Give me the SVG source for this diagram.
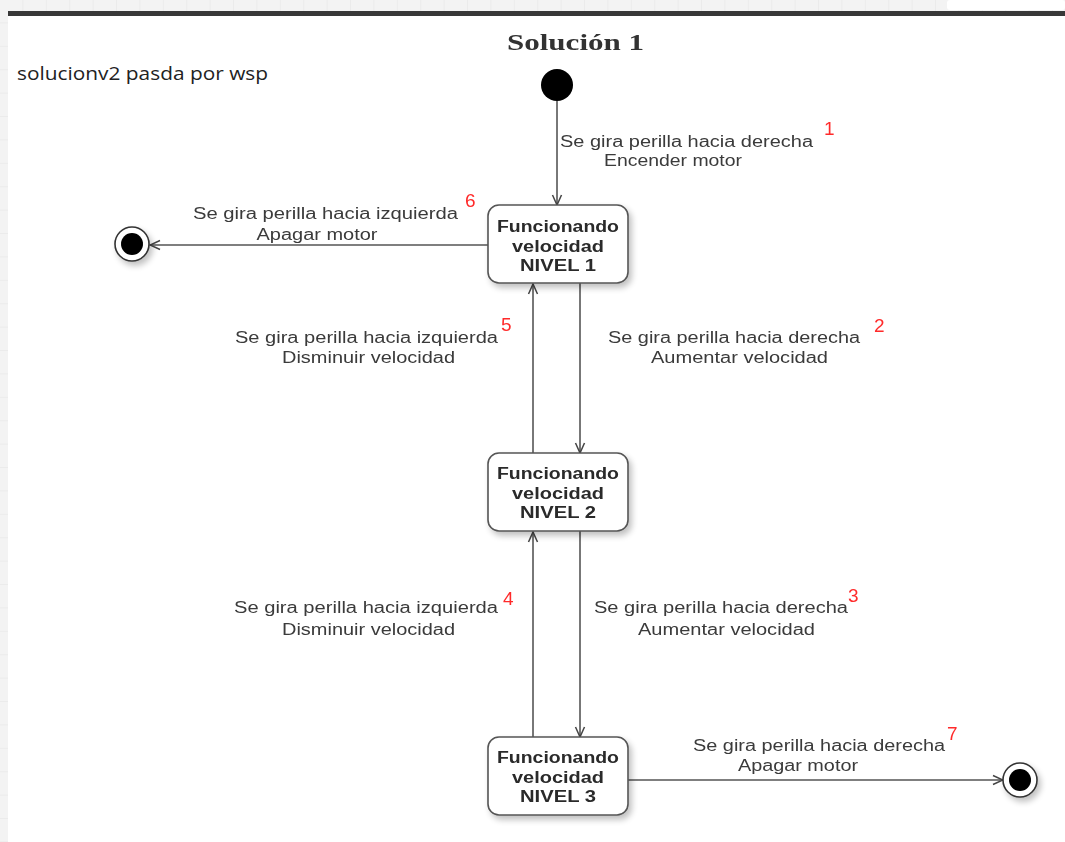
<svg xmlns="http://www.w3.org/2000/svg" width="1065" height="842" viewBox="0 0 1065 842">
  <defs>
    <pattern id="grid" width="23.4" height="23.4" patternUnits="userSpaceOnUse">
      <rect width="23.4" height="23.4" fill="#f3f3f3"/>
      <path d="M23.4 0V23.4M0 23.4H23.4" fill="none" stroke="#e4e4e4" stroke-width="1"/>
    </pattern>
    <filter id="soft" x="-5%" y="-5%" width="110%" height="110%">
      <feGaussianBlur stdDeviation="0.6"/>
    </filter>
    <filter id="shadow" x="-20%" y="-20%" width="150%" height="150%">
      <feGaussianBlur in="SourceAlpha" stdDeviation="3"/>
      <feOffset dx="3" dy="4" result="b"/>
      <feComponentTransfer><feFuncA type="linear" slope="0.25"/></feComponentTransfer>
      <feMerge><feMergeNode/><feMergeNode in="SourceGraphic"/></feMerge>
    </filter>
    <marker id="open" viewBox="0 0 12 12" refX="11" refY="6" markerWidth="12" markerHeight="12" markerUnits="userSpaceOnUse" orient="auto">
      <path d="M1 1.5L11 6L1 10.5" fill="none" stroke="#444" stroke-width="1.5"/>
    </marker>
  </defs>
  <style>
    .lbl { font-family: "Liberation Sans", Arial, sans-serif; font-size: 16px; fill: #3a3a3a; text-anchor: middle; }
    .num { font-family: "Liberation Sans", Arial, sans-serif; font-size: 19px; fill: #ff2a2a; }
    .st { font-family: "Liberation Sans", Arial, sans-serif; font-size: 16px; font-weight: bold; fill: #2a2a2a; text-anchor: middle; }
    .box { fill: #ffffff; stroke: #555; stroke-width: 1.6; }
    .edge { fill: none; stroke: #555; stroke-width: 1.6; marker-end: url(#open); }
  </style>

  <!-- page background -->
  <rect width="1065" height="842" fill="url(#grid)"/>
  <rect x="947" y="0" width="118" height="10" rx="3" fill="#ffffff"/>
  <rect x="8" y="11" width="1057" height="831" fill="#ffffff"/>
  <rect x="8" y="11" width="1057" height="5" fill="#383838"/>

  <text x="17" y="80" font-family="'Open Sans', 'Noto Sans', sans-serif" font-size="18" fill="#222" textLength="251" lengthAdjust="spacingAndGlyphs">solucionv2 pasda por wsp</text>

  <g filter="url(#soft)">
    <text x="575.5" y="50" font-family="'Liberation Serif', 'Times New Roman', serif" font-size="24" font-weight="bold" fill="#333" text-anchor="middle" textLength="137" lengthAdjust="spacingAndGlyphs">Solución 1</text>

    <!-- transitions -->
    <g id="connectors">
      <path class="edge" d="M557 101V205"/>
      <path class="edge" d="M488 245H150"/>
      <path class="edge" d="M580 283V453"/>
      <path class="edge" d="M533 453V284"/>
      <path class="edge" d="M580 531V737"/>
      <path class="edge" d="M533 737V532"/>
      <path class="edge" d="M628 780H1003"/>

      <text class="lbl" x="686.5" y="147" textLength="253" lengthAdjust="spacingAndGlyphs">Se gira perilla hacia derecha</text>
      <text class="lbl" x="673" y="166" textLength="138" lengthAdjust="spacingAndGlyphs">Encender motor</text>
      <text class="num" x="824" y="135">1</text>

      <text class="lbl" x="325.5" y="219" textLength="265" lengthAdjust="spacingAndGlyphs">Se gira perilla hacia izquierda</text>
      <text class="lbl" x="317" y="240" textLength="121" lengthAdjust="spacingAndGlyphs">Apagar motor</text>
      <text class="num" x="465" y="207">6</text>

      <text class="lbl" x="366.5" y="343" textLength="263" lengthAdjust="spacingAndGlyphs">Se gira perilla hacia izquierda</text>
      <text class="lbl" x="368.5" y="363" textLength="173" lengthAdjust="spacingAndGlyphs">Disminuir velocidad</text>
      <text class="num" x="501" y="331">5</text>

      <text class="lbl" x="734" y="343" textLength="252" lengthAdjust="spacingAndGlyphs">Se gira perilla hacia derecha</text>
      <text class="lbl" x="739.5" y="363" textLength="177" lengthAdjust="spacingAndGlyphs">Aumentar velocidad</text>
      <text class="num" x="874" y="332">2</text>

      <text class="lbl" x="366" y="613" textLength="264" lengthAdjust="spacingAndGlyphs">Se gira perilla hacia izquierda</text>
      <text class="lbl" x="368.5" y="635" textLength="173" lengthAdjust="spacingAndGlyphs">Disminuir velocidad</text>
      <text class="num" x="503" y="605">4</text>

      <text class="lbl" x="721" y="613" textLength="254" lengthAdjust="spacingAndGlyphs">Se gira perilla hacia derecha</text>
      <text class="lbl" x="726.5" y="635" textLength="177" lengthAdjust="spacingAndGlyphs">Aumentar velocidad</text>
      <text class="num" x="848" y="602">3</text>

      <text class="lbl" x="819" y="751" textLength="252" lengthAdjust="spacingAndGlyphs">Se gira perilla hacia derecha</text>
      <text class="lbl" x="798" y="771" textLength="120" lengthAdjust="spacingAndGlyphs">Apagar motor</text>
      <text class="num" x="947" y="740">7</text>
    </g>

    <!-- initial state -->
    <g id="initial">
      <circle cx="557" cy="85" r="16" fill="#000"/>
    </g>

    <!-- final states -->
    <g id="final-left" filter="url(#shadow)">
      <circle cx="132" cy="244" r="17" fill="#fff" stroke="#333" stroke-width="1.6"/>
      <circle cx="132" cy="244" r="11" fill="#000"/>
    </g>
    <g id="final-right" filter="url(#shadow)">
      <circle cx="1020" cy="780" r="17" fill="#fff" stroke="#333" stroke-width="1.6"/>
      <circle cx="1020" cy="780" r="11" fill="#000"/>
    </g>

    <!-- speed states -->
    <g id="nivel1" filter="url(#shadow)">
      <rect class="box" x="488" y="205" width="140" height="78" rx="11"/>
      <text class="st" x="558" y="232" textLength="122" lengthAdjust="spacingAndGlyphs">Funcionando</text>
      <text class="st" x="558" y="252" textLength="92" lengthAdjust="spacingAndGlyphs">velocidad</text>
      <text class="st" x="558" y="271" textLength="76" lengthAdjust="spacingAndGlyphs">NIVEL 1</text>
    </g>
    <g id="nivel2" filter="url(#shadow)">
      <rect class="box" x="488" y="453" width="140" height="78" rx="11"/>
      <text class="st" x="558" y="479" textLength="122" lengthAdjust="spacingAndGlyphs">Funcionando</text>
      <text class="st" x="558" y="499" textLength="92" lengthAdjust="spacingAndGlyphs">velocidad</text>
      <text class="st" x="558" y="518" textLength="76" lengthAdjust="spacingAndGlyphs">NIVEL 2</text>
    </g>
    <g id="nivel3" filter="url(#shadow)">
      <rect class="box" x="488" y="737" width="140" height="78" rx="11"/>
      <text class="st" x="558" y="763" textLength="122" lengthAdjust="spacingAndGlyphs">Funcionando</text>
      <text class="st" x="558" y="783" textLength="92" lengthAdjust="spacingAndGlyphs">velocidad</text>
      <text class="st" x="558" y="802" textLength="76" lengthAdjust="spacingAndGlyphs">NIVEL 3</text>
    </g>
  </g>
</svg>
